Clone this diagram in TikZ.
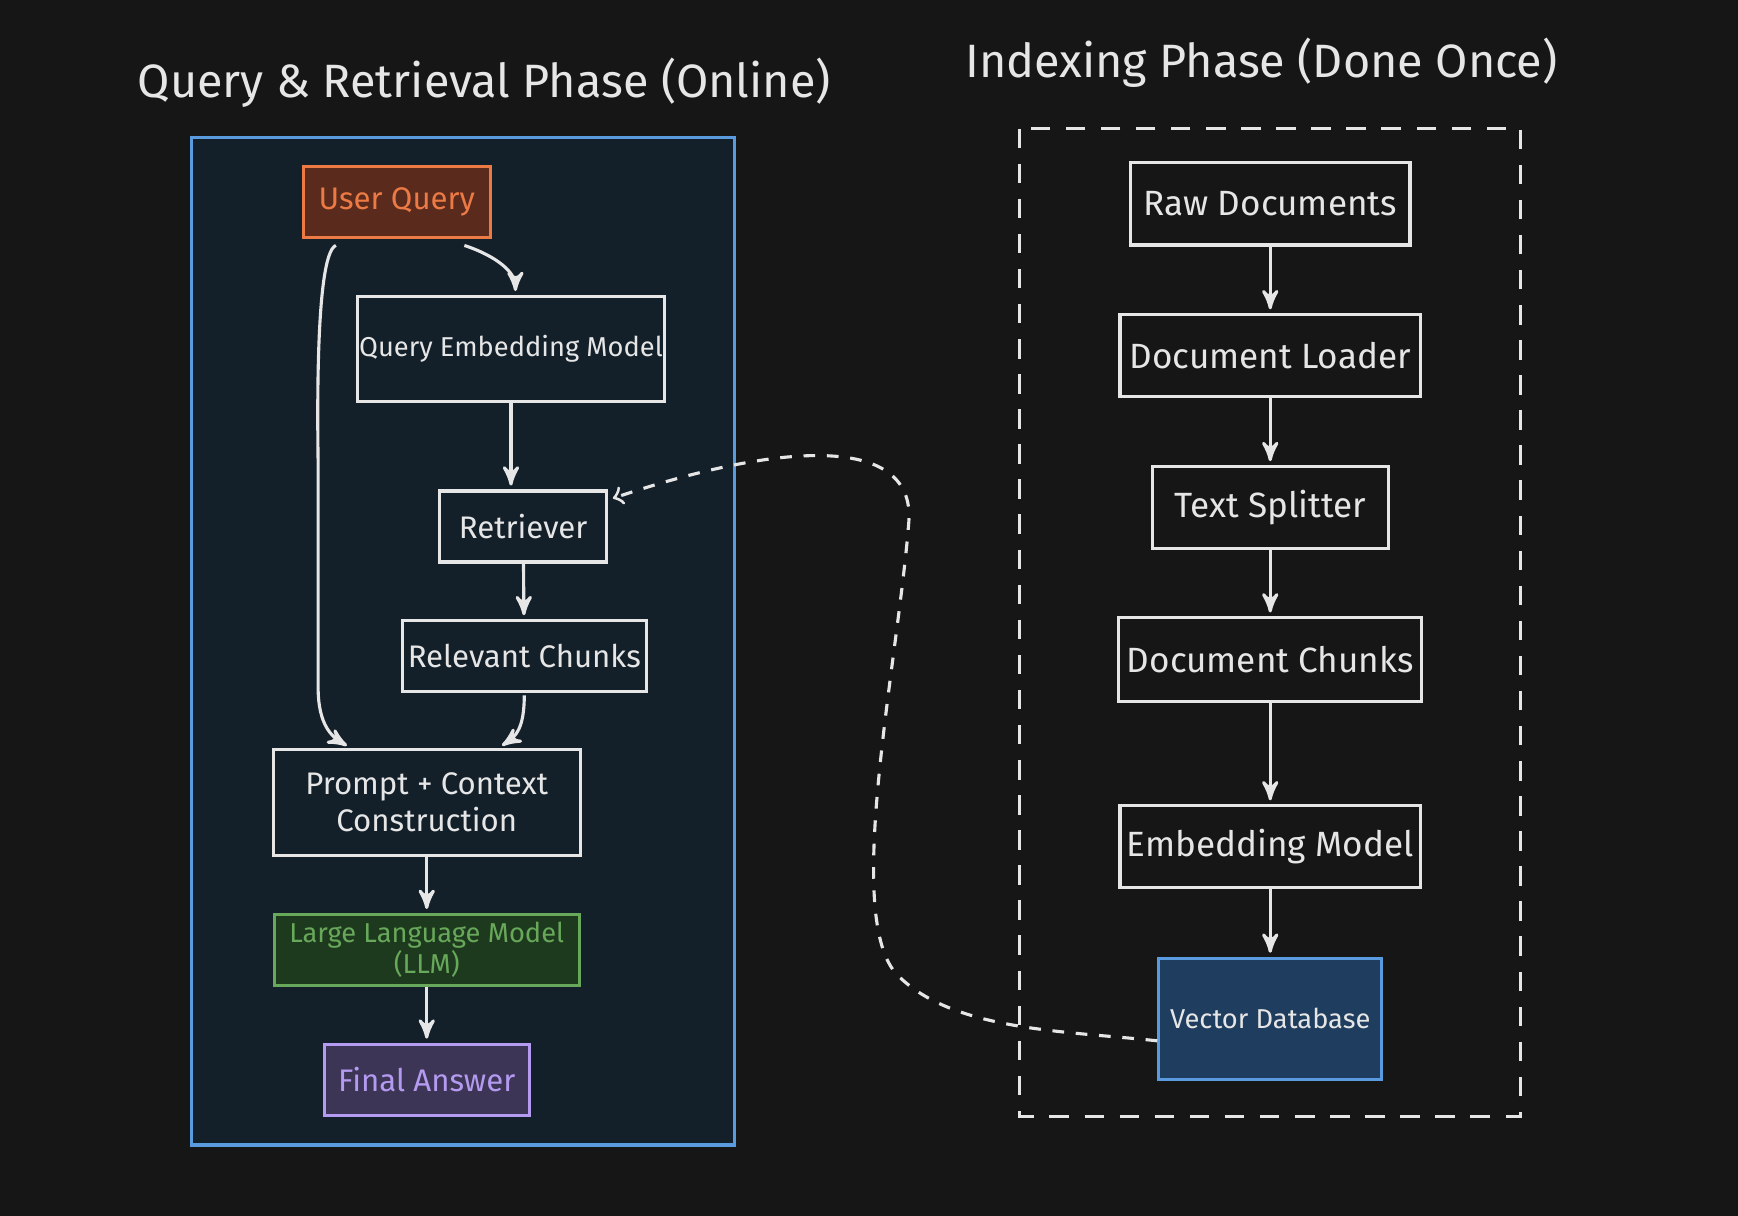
\documentclass[tikz,border=0pt]{standalone}
\usepackage{fontspec}
\setmainfont{Fira Sans}
\usetikzlibrary{arrows}

\definecolor{bgcol}{HTML}{161616}
\definecolor{panelcol}{HTML}{13202A}
\definecolor{bluecol}{HTML}{5A9BE0}
\definecolor{orangecol}{HTML}{EC7A45}
\definecolor{orangefill}{HTML}{5A2B1C}
\definecolor{greencol}{HTML}{68A85A}
\definecolor{greenfill}{HTML}{1E3A1E}
\definecolor{purplecol}{HTML}{B49AF0}
\definecolor{purplefill}{HTML}{3D3556}
\definecolor{dbfill}{HTML}{1F3D5E}
\definecolor{linecol}{HTML}{E6E6E6}

\begin{document}
\begin{tikzpicture}[x=0.01cm,y=-0.01cm,->,>=stealth',shorten >=1pt,
  thick,draw=linecol,
  box/.style={rectangle,draw=linecol,fill=panelcol,text=linecol,align=center,font=\footnotesize,inner sep=0pt},
  title/.style={text=linecol,font=\large}]

 \fill[bgcol] (0,0) rectangle (1568,1097);
 \useasboundingbox (0,0) rectangle (1568,1097);

 % panels
 \draw[-,bluecol,fill=panelcol] (173,124) rectangle (663,1033);
 \draw[-,linecol,dash pattern=on 5pt off 4pt] (920,116) rectangle (1372,1007);
 \node[title] (t1) at (437,75) {Query \& Retrieval Phase (Online)};
 \node[title] (t2) at (1138,57) {Indexing Phase (Done Once)};

 % online
 \node[box,draw=orangecol,fill=orangefill,text=orangecol,minimum width=1.69cm,minimum height=0.64cm] (uq) at (358,182) {User Query};
 \node[box,font=\scriptsize,minimum width=2.77cm,minimum height=0.95cm] (qem) at (461,315) {Query Embedding Model};
 \node[box,minimum width=1.51cm,minimum height=0.64cm] (ret) at (472,475) {Retriever};
 \node[box,minimum width=2.2cm,minimum height=0.64cm] (rel) at (473,592) {Relevant Chunks};
 \node[box,minimum width=2.77cm,minimum height=0.96cm] (pc) at (385,724) {Prompt + Context\\Construction};
 \node[box,font=\scriptsize,draw=greencol,fill=greenfill,text=greencol,minimum width=2.75cm,minimum height=0.64cm] (llm) at (385,857) {Large Language Model\\(LLM)};
 \node[box,draw=purplecol,fill=purplefill,text=purplecol,minimum width=1.85cm,minimum height=0.64cm] (fa) at (385,974) {Final Answer};

 % indexing
 \node[box,fill=bgcol,font=\small,minimum width=2.52cm,minimum height=0.74cm] (raw) at (1146,184) {Raw Documents};
 \node[box,fill=bgcol,font=\small,minimum width=2.71cm,minimum height=0.74cm] (load) at (1146,321) {Document Loader};
 \node[box,fill=bgcol,font=\small,minimum width=2.13cm,minimum height=0.74cm] (split) at (1146,458) {Text Splitter};
 \node[box,fill=bgcol,font=\small,minimum width=2.73cm,minimum height=0.75cm] (dch) at (1146,595) {Document Chunks};
 \node[box,fill=bgcol,font=\small,minimum width=2.71cm,minimum height=0.74cm] (emb) at (1146,764) {Embedding Model};
 \node[box,draw=bluecol,fill=dbfill,font=\scriptsize,minimum width=2.01cm,minimum height=1.09cm] (vdb) at (1146,919) {Vector Database};

 \path
    (raw)   edge (load)
    (load)  edge (split)
    (split) edge (dch)
    (dch)   edge (emb)
    (emb)   edge (vdb)
    (qem)   edge (qem.south |- ret.north)
    (ret)   edge (rel)
    (pc)    edge (llm)
    (llm)   edge (fa);

 \draw ([shift={(-25,6)}]uq.south east) .. controls +(30,10) and +(0,-20) .. ([xshift=0.04cm]qem.north);
 \draw ([shift={(31,6)}]uq.south west) .. controls +(-20,8) and +(0,-20) .. (287,420)
   -- (287,620) .. controls (287,655) and (300,665) .. ([xshift=-0.69cm]pc.north);
 \draw ([yshift=-0.02cm]rel.south) .. controls +(0,30) and +(15,-10) .. ([xshift=0.65cm]pc.north);
 \draw[dashed,>=to,shorten >=0pt] ([yshift=-0.2cm]vdb.west)
   .. controls (960,930) and (860,930) .. (810,880)
   .. controls (760,830) and (810,600) .. (820,470)
   .. controls (825,390) and (700,400) .. ([shift={(0.04cm,-0.08cm)}]ret.north east);
\end{tikzpicture}
\end{document}
